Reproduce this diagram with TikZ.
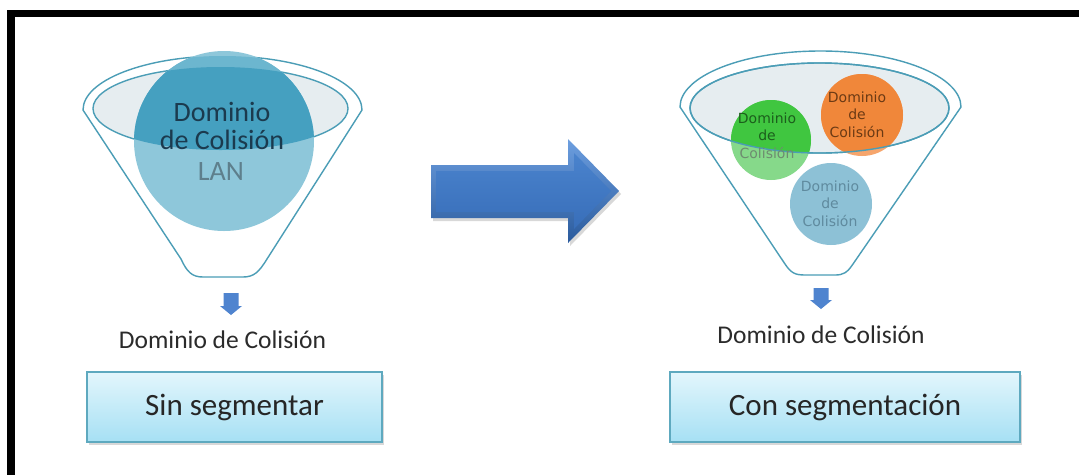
\documentclass[tikz,border=0pt]{standalone}
\usepackage{fontspec}
\setmainfont{Carlito}
\newfontfamily\circfont{DejaVu Sans}
\usetikzlibrary{shadows}

\definecolor{rimline}{HTML}{4B9DB6}
\definecolor{innerfill}{HTML}{E6EDF0}
\definecolor{lanlight}{HTML}{8EC7DA}
\definecolor{lanmid}{HTML}{6CB6CF}
\definecolor{landark}{HTML}{45A0C0}
\definecolor{lantext}{HTML}{1B3A4E}
\definecolor{langrey}{HTML}{5E7F8C}
\definecolor{grnlight}{HTML}{86D98A}
\definecolor{grnsat}{HTML}{40C640}
\definecolor{grntext}{HTML}{1C5E1C}
\definecolor{grngrey}{HTML}{6E8C70}
\definecolor{orglight}{HTML}{F6A56C}
\definecolor{orgsat}{HTML}{F0873A}
\definecolor{orgtext}{HTML}{6B3A14}
\definecolor{blulight}{HTML}{8DC1D6}
\definecolor{blutext}{HTML}{5F8A9E}
\definecolor{smallarrow}{HTML}{4F84CF}
\definecolor{labeltext}{HTML}{2B2B2B}
\definecolor{boxline}{HTML}{5EA9BF}
\definecolor{boxtop}{HTML}{E3F6FC}
\definecolor{boxbot}{HTML}{A6E0F4}
\definecolor{arrowlight}{HTML}{6D9FE0}
\definecolor{arrowdark}{HTML}{2A5A9C}
\definecolor{arrowface}{HTML}{4A83CD}
\definecolor{arrowfacedark}{HTML}{386EB9}

\begin{document}
\begin{tikzpicture}[x=1pt,y=-1pt,
  funnelline/.style={draw=rimline,line width=1.4pt},
  bigtext/.style={font=\fontsize{28}{28}\selectfont,align=center,text=lantext},
  smalltext/.style={font=\circfont\fontsize{14}{17.5}\selectfont,align=center},
  caption/.style={font=\fontsize{25.5}{26}\selectfont,text=labeltext},
  stagebox/.style={draw=boxline,line width=1.2pt,top color=boxtop,bottom color=boxbot,
    font=\fontsize{31}{31}\selectfont,text=black!85,minimum height=70pt,
    drop shadow={opacity=0.3,shadow xshift=1.5pt,shadow yshift=-3pt}},
  downarrow/.style={fill=smallarrow}]

\useasboundingbox (0,0) rectangle (1079,475);
\fill[white] (0,0) rectangle (1079,475);

% frame bars
\fill[black] (7,10) rectangle (1079,17);
\fill[black] (7,10) rectangle (15,475);

% ---------- left funnel ----------
\path[funnelline,fill=white] (83,110) arc[start angle=180,end angle=360,x radius=139.5,y radius=54]
  -- (267,259) .. controls (259,272) and (254,277) .. (243,277) -- (203,277)
  .. controls (192,277) and (187,272) .. (181,259) -- cycle;
\draw[funnelline,fill=innerfill] (220.5,108.5) ellipse [x radius=127.5,y radius=41.5];

% LAN circle
\fill[lanlight] (224,141) circle [radius=90];
\begin{scope}
  \clip (224,141) circle [radius=90];
  \fill[lanmid] (83,110) arc[start angle=180,end angle=360,x radius=139.5,y radius=54] -- cycle;
  \fill[landark] (220.5,108.5) ellipse [x radius=127.5,y radius=41.5];
\end{scope}
\node[bigtext] (lanname) at (222,126) {Dominio\\de Colisión};
\node[bigtext,text=langrey] (lan) at (221,172) {LAN};

% small arrow
\fill[downarrow] (223.5,293) -- (238.5,293) -- (238.5,306) -- (242,306) -- (231,315)
  -- (220,306) -- (223.5,306) -- cycle;
\node[caption] (cap1) at (222.5,340) {Dominio de Colisión};
\node[stagebox,minimum width=295pt] (box1) at (234.5,407) {Sin segmentar};

% ---------- big arrow ----------
\path[top color=arrowlight,bottom color=arrowdark,
  drop shadow={opacity=0.3,shadow xshift=2pt,shadow yshift=-3pt}]
  (431,165) -- (568,165) -- (568,139) -- (619,191) -- (568,243) -- (568,218)
  -- (431,218) -- cycle;
\path[top color=arrowface,bottom color=arrowfacedark]
  (436,171) -- (574,171) -- (574,153) -- (611,191) -- (574,229) -- (574,212)
  -- (436,212) -- cycle;

% ---------- right funnel ----------
\path[funnelline,fill=white] (680,107) arc[start angle=180,end angle=360,x radius=140.5,y radius=56]
  -- (853,264) .. controls (847,273) and (843,275) .. (835,275) -- (805,275)
  .. controls (795,275) and (791,273) .. (785,264) -- cycle;
\draw[funnelline,fill=innerfill] (819.5,108) ellipse [x radius=129.5,y radius=45];

% domain circles
\fill[grnlight] (771,140) circle [radius=40];
\fill[orglight] (862,115) circle [radius=41];
\fill[blulight] (831,204) circle [radius=41];
\begin{scope}
  \clip (819.5,108) ellipse [x radius=129.5,y radius=45];
  \fill[grnsat] (771,140) circle [radius=40];
  \fill[orgsat] (862,115) circle [radius=41];
\end{scope}
\draw[funnelline] (819.5,108) ellipse [x radius=129.5,y radius=45];

\node[smalltext,text=grntext] (dgreen) at (767,135.5) {Dominio\\de\\\textcolor{grngrey}{Colisión}};
\node[smalltext,text=orgtext] (dorange) at (857,114.5) {Dominio\\de\\Colisión};
\node[smalltext,text=blutext] (dblue) at (830,203.5) {Dominio\\de\\Colisión};

\fill[downarrow] (813.5,288) -- (828.5,288) -- (828.5,300) -- (832,300) -- (821,309)
  -- (810,300) -- (813.5,300) -- cycle;
\node[caption] (cap2) at (821,335) {Dominio de Colisión};
\node[stagebox,minimum width=350pt] (box2) at (845,407) {Con segmentación};

\end{tikzpicture}
\end{document}
